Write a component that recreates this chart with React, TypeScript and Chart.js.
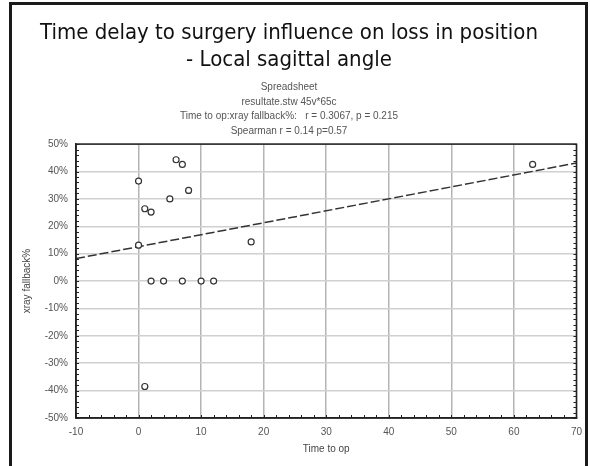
import React, { useEffect, useRef } from "react";
import { Chart, registerables } from "chart.js";

Chart.register(...registerables);

const titleLines = ["Time delay to surgery influence on loss in position", "- Local sagittal angle"];
const subtitleLines = [
  "Spreadsheet",
  "resultate.stw 45v*65c",
  "Time to op:xray fallback%:   r = 0.3067, p = 0.215",
  "Spearman r = 0.14 p=0.57",
];
const xAxisTitle = "Time to op";
const yAxisTitle = "xray fallback%";

const timeToOp = [6, 7, 0, 8, 5, 1, 2, 0, 2, 4, 7, 10, 12, 1, 18, 63];
const fallbackPct = [44.3, 42.6, 36.5, 33.1, 30, 26.4, 25.2, 13.1, 0, 0, 0, 0, 0, -38.5, 14.3, 42.6];

const fitX = [-10, 70];
const fitY = [8.2, 43.1];

const xMin = -10, xMax = 70, xStep = 10, xMinor = 2;
const yMin = -50, yMax = 50, yStep = 10, yMinor = 2;

const minorTicks = {
  id: "minorTicks",
  afterDatasetsDraw(chart: any) {
    const { ctx, chartArea } = chart;
    const xs = chart.scales.x;
    const ys = chart.scales.y;
    ctx.save();
    ctx.strokeStyle = "#222";
    ctx.lineWidth = 1;
    ctx.beginPath();
    for (let v = xMin; v <= xMax; v += xMinor) {
      const px = Math.round(xs.getPixelForValue(v)) + 0.5;
      ctx.moveTo(px, chartArea.bottom);
      ctx.lineTo(px, chartArea.bottom - 3);
    }
    for (let v = yMin; v <= yMax; v += yMinor) {
      const py = Math.round(ys.getPixelForValue(v)) + 0.5;
      ctx.moveTo(chartArea.left, py);
      ctx.lineTo(chartArea.left + 3, py);
      ctx.moveTo(chartArea.right, py);
      ctx.lineTo(chartArea.right - 3, py);
    }
    ctx.stroke();
    ctx.lineWidth = 1.5;
    ctx.strokeRect(chartArea.left, chartArea.top, chartArea.right - chartArea.left, chartArea.bottom - chartArea.top);
    ctx.restore();
  },
};

const smallFont = "'Liberation Sans', Arial, sans-serif";
const titleFont = "'Liberation Sans Narrow', 'DejaVu Sans Condensed', 'Arial Narrow', sans-serif";

export default function App() {
  const ref = useRef<HTMLCanvasElement | null>(null);

  useEffect(() => {
    if (!ref.current) return;
    const chart = new Chart(ref.current, {
      type: "scatter",
      data: {
        datasets: [
          {
            label: "points",
            data: timeToOp.map((x, i) => ({ x, y: fallbackPct[i] })),
            pointStyle: "circle",
            pointRadius: 3,
            pointBorderWidth: 1.2,
            borderColor: "#333",
            backgroundColor: "#fff",
            showLine: false,
          },
          {
            label: "fit",
            data: fitX.map((x, i) => ({ x, y: fitY[i] })),
            showLine: true,
            borderColor: "#333",
            borderWidth: 1.5,
            borderDash: [9, 3],
            pointRadius: 0,
            fill: false,
          },
        ],
      },
      options: {
        animation: false,
        responsive: false,
        layout: { padding: { left: 0, right: 12, top: 0, bottom: 0 } },
        plugins: {
          legend: { display: false },
          tooltip: { enabled: false },
          title: {
            display: true,
            text: titleLines,
            color: "#111",
            font: { family: titleFont, size: 22, weight: "normal", lineHeight: 1.23 },
            padding: { top: 20, bottom: 3 },
          },
          subtitle: {
            display: true,
            text: subtitleLines,
            color: "#555",
            font: { family: smallFont, size: 10, weight: "normal", lineHeight: 1.45 },
            padding: { top: 3, bottom: 6 },
          },
        },
        scales: {
          x: {
            type: "linear",
            min: xMin,
            max: xMax,
            afterFit(scale: any) {
              scale.height = 48;
            },
            ticks: {
              stepSize: xStep,
              color: "#555",
              font: { family: smallFont, size: 10 },
              padding: 8,
            },
            grid: { color: "#b4b4b4", lineWidth: 1.5, drawTicks: false },
            border: { display: true, color: "#222", width: 1.5 },
            title: {
              display: true,
              text: xAxisTitle,
              color: "#444",
              font: { family: smallFont, size: 10 },
              padding: { top: 0, bottom: 11 },
            },
          },
          y: {
            type: "linear",
            min: yMin,
            max: yMax,
            afterFit(scale: any) {
              scale.width = 76;
            },
            ticks: {
              stepSize: yStep,
              color: "#555",
              font: { family: smallFont, size: 10 },
              padding: 8,
              callback: (v: any) => v + "%",
            },
            grid: { color: "#d0d0d0", lineWidth: 1.5, drawTicks: false },
            border: { display: true, color: "#222", width: 1.5 },
            title: {
              display: true,
              text: yAxisTitle,
              color: "#444",
              font: { family: smallFont, size: 10 },
              padding: { top: 21, bottom: 0 },
            },
          },
        },
      },
      plugins: [minorTicks],
    });
    return () => chart.destroy();
  }, []);

  return (
    <div style={{ position: "absolute", left: 0, top: 0, width: 590, height: 466, background: "#fff", overflow: "hidden" }}>
      <canvas ref={ref} width={590} height={466} style={{ display: "block" }} />
      <div
        style={{
          position: "absolute",
          left: 9,
          top: 2,
          width: 573,
          height: 470,
          borderLeft: "3px solid #1a1a1a",
          borderTop: "3px solid #1a1a1a",
          borderRight: "3px solid #1a1a1a",
          pointerEvents: "none",
        }}
      />
    </div>
  );
}
